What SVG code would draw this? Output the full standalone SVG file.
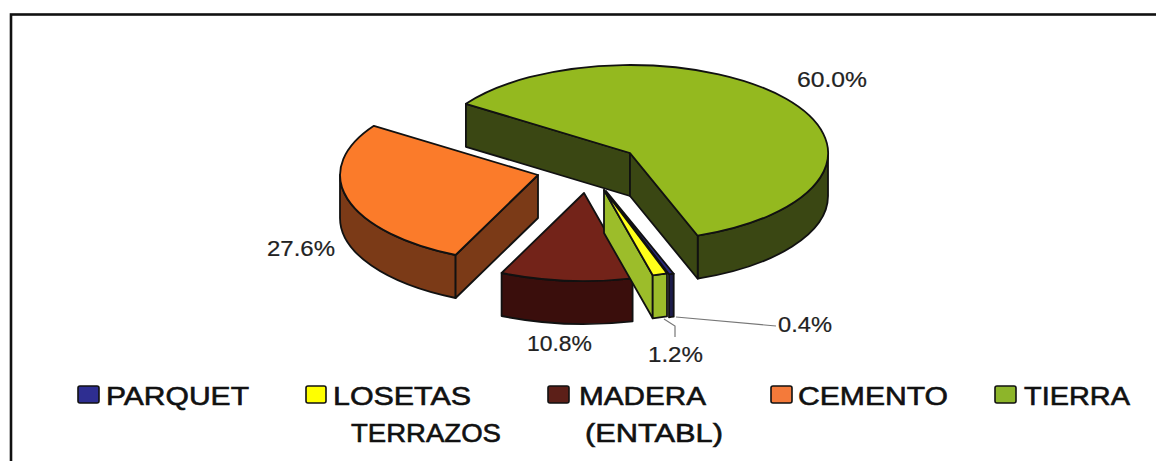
<svg xmlns="http://www.w3.org/2000/svg" width="1156" height="461" viewBox="0 0 1156 461">
<style>
.s{stroke:#111;stroke-width:1.8;stroke-linejoin:round}
.pct{font-family:"Liberation Sans",Arial,sans-serif;font-size:22px;fill:#222;stroke:#222;stroke-width:0.2}
.lg{font-family:"Liberation Sans",Arial,sans-serif;font-size:26px;fill:#111;stroke:#111;stroke-width:0.6}
.sw{stroke:#111;stroke-width:1.6}
.lead{fill:none;stroke:#777;stroke-width:1.2}
</style>
<rect x="0" y="0" width="1156" height="461" fill="#fff"/>
<rect id="frame" x="11" y="14.5" width="1170" height="470" fill="none" stroke="#111" stroke-width="2.6"/>

<g id="slice-cemento">
  <path class="s" fill="#7b3a17" d="M455.6,255 A198,88 0 0 1 340,175 L340,218 A198,88 0 0 0 455.6,298 Z"/>
  <path class="s" fill="#7b3a17" d="M538,175 L455.6,255 L455.6,298 L538,218 Z"/>
  <path class="s" fill="#fb7b2a" d="M538,175 L455.6,255 A198,88 0 0 1 373.9,125.8 Z"/>
</g>

<g id="slice-tierra">
  <path class="s" fill="#3a4713" d="M828,153 A198,88 0 0 1 697.7,235.7 L697.7,278.7 A198,88 0 0 0 828,196 Z"/>
  <path class="s" fill="#3a4713" d="M465.9,103.8 L630,153 L630,196 L465.9,146.8 Z"/>
  <path class="s" fill="#3a4713" d="M630,153 L697.7,235.7 L697.7,278.7 L630,196 Z"/>
  <path class="s" fill="#94b91f" d="M630,153 L465.9,103.8 A198,88 0 1 1 697.7,235.7 Z"/>
</g>

<g id="slice-madera">
  <path class="s" fill="#3a0e0c" d="M632.6,278.3 A198,88 0 0 1 501.6,273 L501.6,316 A198,88 0 0 0 632.6,321.3 Z"/>
  <path class="s" fill="#732319" d="M584,193 L632.6,278.3 A198,88 0 0 1 501.6,273 Z"/>
</g>

<g id="slice-parquet">
  <path class="s" fill="#1c1c4a" d="M669,274.4 A198,88 0 0 0 673.7,273.7 L673.7,316.7 A198,88 0 0 1 669,317.4 Z"/>
  <path class="s" fill="#2a2a7a" d="M606,191 L673.7,273.7 A198,88 0 0 1 669,274.4 Z"/>
</g>

<g id="slice-losetas">
  <path class="s" fill="#9cbd2a" d="M604,190 L652.7,275.3 L652.7,318.3 L604,233 Z"/>
  <path class="s" fill="#9cbd2a" d="M652.7,275.3 A198,88 0 0 0 667,273.4 L667,316.4 A198,88 0 0 1 652.7,318.3 Z"/>
  <path class="s" fill="#ffff1a" d="M604,190 L667,273.4 A198,88 0 0 1 652.7,275.3 Z"/>
</g>

<g id="connectors">
  <polyline class="lead" points="676,317 776,326"/>
  <polyline class="lead" points="664,319 675,326 675,337"/>
</g>

<g id="labels">
  <text class="pct" x="797" y="87" textLength="70" lengthAdjust="spacingAndGlyphs">60.0%</text>
  <text class="pct" x="267" y="256" textLength="68" lengthAdjust="spacingAndGlyphs">27.6%</text>
  <text class="pct" x="527" y="351" textLength="65" lengthAdjust="spacingAndGlyphs">10.8%</text>
  <text class="pct" x="648" y="362" textLength="55" lengthAdjust="spacingAndGlyphs">1.2%</text>
  <text class="pct" x="778" y="332" textLength="54" lengthAdjust="spacingAndGlyphs">0.4%</text>
</g>

<g id="legend-parquet">
  <rect class="sw" x="78" y="386" width="21" height="17" rx="2" fill="#2e2e91" stroke="#2e2e91"/>
  <text class="lg" x="106" y="405" textLength="143" lengthAdjust="spacingAndGlyphs">PARQUET</text>
</g>
<g id="legend-losetas">
  <rect class="sw" x="306" y="386" width="20" height="17" rx="2" fill="#ffff00"/>
  <text class="lg" x="333" y="405" textLength="138" lengthAdjust="spacingAndGlyphs">LOSETAS</text>
  <text class="lg" x="351" y="442" textLength="150" lengthAdjust="spacingAndGlyphs">TERRAZOS</text>
</g>
<g id="legend-madera">
  <rect class="sw" x="548" y="386" width="21" height="17" rx="2" fill="#5c1f18" stroke="#5c1f18"/>
  <text class="lg" x="579" y="405" textLength="127" lengthAdjust="spacingAndGlyphs">MADERA</text>
  <text class="lg" x="585" y="442" textLength="138" lengthAdjust="spacingAndGlyphs">(ENTABL)</text>
</g>
<g id="legend-cemento">
  <rect class="sw" x="771" y="386" width="21" height="17" rx="2" fill="#f47a3a"/>
  <text class="lg" x="798" y="405" textLength="150" lengthAdjust="spacingAndGlyphs">CEMENTO</text>
</g>
<g id="legend-tierra">
  <rect class="sw" x="995" y="386" width="21" height="17" rx="2" fill="#8db52a"/>
  <text class="lg" x="1024" y="405" textLength="106" lengthAdjust="spacingAndGlyphs">TIERRA</text>
</g>
</svg>
